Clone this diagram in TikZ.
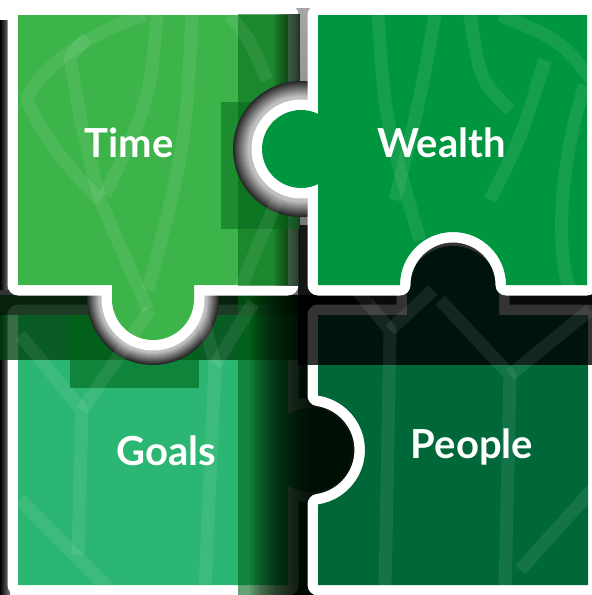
\documentclass[tikz,border=0pt]{standalone}
\usepackage{fontspec}
\newfontfamily\lblfont{Lato}
\definecolor{timec}{HTML}{3CB449}
\definecolor{wealthc}{HTML}{00963F}
\definecolor{goalsc}{HTML}{2CB673}
\definecolor{peoplec}{HTML}{006838}
\definecolor{shgreen}{RGB}{0,100,22}
\begin{document}
\begin{tikzpicture}[x=1pt,y=-1pt,line join=round,
  piece/.style={fill=#1,preaction={draw=white,line width=21pt,line join=round}},
  tree/.style={draw=white,draw opacity=0.08,line width=13pt},
  shd/.style={fill=black,fill opacity=#1},
  gshd/.style={fill=shgreen,fill opacity=#1},
  lbl/.style={text=white,font=\lblfont\bfseries\fontsize{40}{40}\selectfont,anchor=base,inner sep=0pt}]
\useasboundingbox (0,0) rectangle (592,595);
\fill[white] (0,0) rectangle (592,595);
% background shadows in the gaps
\shade[left color=black,right color=black!50] (0,20) rectangle (10,595);
\fill[black!80] (0,290) rectangle (592,312);
\shade[top color=black!35,bottom color=black!85] (292,8) rectangle (314,595);
\fill[black] (453,285) circle[radius=52];
% paths
\def\goalspath{(18,315) -- (288,315) -- (288,414.2) arc[start angle=238.4,end angle=481.6,radius=42] -- (288,585) -- (18,585) -- cycle}
\def\peoplepath{(318,315) -- (407,315) -- (407,292) arc[start angle=180,end angle=360,radius=46] -- (499,315) -- (588,315) -- (588,585) -- (318,585) -- (318,504.4) arc[start angle=81.6,end angle=-81.6,radius=55] -- cycle}
\def\timepath{(18,15) -- (288,15) -- (288,285) -- (194,285) -- (194,299) arc[start angle=0,end angle=180,radius=41] -- (112,285) -- (18,285) -- cycle}
\def\wealthpath{(318,15) -- (587,15) -- (587,285) -- (506,285) arc[start angle=0,end angle=-180,radius=53] -- (318,285) -- (318,184.1) arc[start angle=64.2,end angle=295.8,radius=39] -- cycle}
% Goals
\path[piece=goalsc] \goalspath;
\fill[gshd=0.7] (0,295) rectangle (300,360);
\fill[shd=0.25] (0,295) rectangle (300,360);
\fill[shd=0.45] (0,295) rectangle (300,315);
\fill[gshd=0.6] (70,315) rectangle (199,388);
\fill[gshd=0.6] (238,295) rectangle (372,595);
\foreach \i in {0,...,23} \fill[shd=0.075] ({250+2.5*\i},295) rectangle (372,595);
% People
\path[piece=peoplec] \peoplepath;
\fill[shd=0.8] (298,225) rectangle (592,365);
% shadow ring of the Time knob
\foreach \k in {0,...,12} \fill[black!\the\numexpr85-5*\k\relax] (153,299) circle[radius=66-\k];
% Time
\path[piece=timec] \timepath;
\fill[gshd=0.55] (238,14) rectangle (300,286);
\foreach \i in {0,...,11} \fill[shd=0.07] ({274+2*\i},14) rectangle (300,286);
\fill[gshd=0.5] (221,102) rectangle (300,229);
% shadow ring of the Wealth knob
\foreach \k in {0,...,15} \fill[black!\the\numexpr85-4*\k\relax] (301,149) circle[radius=68-\k];
% Wealth
\path[piece=wealthc] \wealthpath;
% watermark tree lines
\draw[tree] (145,15) .. controls (80,35) and (35,75) .. (27,100) .. controls (45,140) and (70,170) .. (100,200);
\draw[tree] (87,37) -- (70,57) .. controls (80,120) .. (100,200) -- (148,310);
\draw[tree] (157,15) .. controls (150,100) .. (105,195);
\draw[tree] (192,15) .. controls (185,150) .. (148,290);
\draw[tree] (230,15) .. controls (250,40) .. (267,80);
\draw[tree] (277,200) .. controls (260,240) .. (240,290);
\draw[tree] (378,15) .. controls (385,120) .. (420,240);
\draw[tree] (435,15) .. controls (420,100) .. (395,200);
\draw[tree] (470,15) .. controls (480,80) .. (510,110);
\draw[tree] (500,15) .. controls (560,40) .. (592,80);
\draw[tree] (545,60) .. controls (520,140) .. (490,200);
\draw[tree] (585,85) .. controls (560,160) and (555,250) .. (570,290);
\draw[tree] (20,335) -- (82,410) -- (78,555);
\draw[tree] (150,310) -- (82,410);
\draw[tree] (20,500) -- (110,590);
\draw[tree] (200,305) -- (215,365) -- (205,590);
\draw[tree] (253,303) -- (215,365);
\draw[tree] (357,290) -- (390,330) -- (385,590);
\draw[tree] (433,290) -- (390,330);
\draw[tree] (440,300) -- (510,375) -- (505,590);
\draw[tree] (590,310) -- (510,375);
\draw[tree] (592,490) -- (520,570);
% labels
\node[lbl] (time) at (129,157) {Time};
\node[lbl] (wealth) at (441.5,157) {Wealth};
\node[lbl] (goals) at (166.5,465) {Goals};
\node[lbl] (people) at (472,458) {People};
\end{tikzpicture}
\end{document}
